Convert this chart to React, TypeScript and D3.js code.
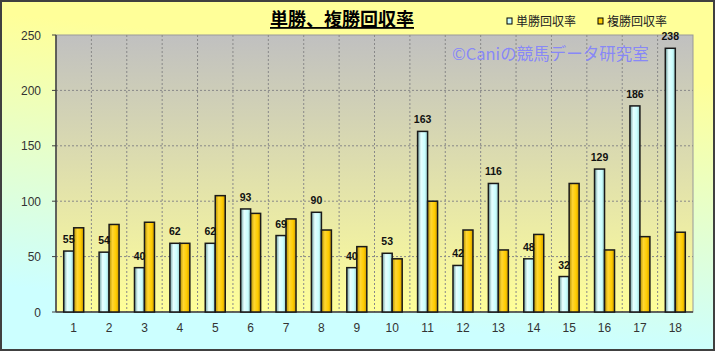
import * as d3 from "d3";
import { useEffect } from "react";

const races = ["1", "2", "3", "4", "5", "6", "7", "8", "9", "10", "11", "12", "13", "14", "15", "16", "17", "18"];
const tanshoRate = [55, 54, 40, 62, 62, 93, 69, 90, 40, 53, 163, 42, 116, 48, 32, 129, 186, 238];
const fukushoRate = [76, 79, 81, 62, 105, 89, 84, 74, 59, 48, 100, 74, 56, 70, 116, 56, 68, 72];
const seriesNames = ["単勝回収率", "複勝回収率"];
const yTicks = [0, 50, 100, 150, 200, 250];

const W = 715;
const H = 351;
const plot = { left: 56, right: 693, top: 35, bottom: 312 };

const App = () => {
  useEffect(() => {
    document.body.style.margin = "0";
  }, []);

  const x = d3
    .scaleBand<string>()
    .domain(races)
    .range([plot.left, plot.right])
    .paddingInner(0.435)
    .paddingOuter(0.2175);
  const x1 = d3.scaleBand<string>().domain(seriesNames).range([0, x.bandwidth()]);
  const y = d3.scaleLinear().domain([0, 250]).range([plot.bottom, plot.top]);

  const step = (plot.right - plot.left) / races.length;
  const fills = ["url(#gCyan)", "url(#gGold)"];
  const values = [tanshoRate, fukushoRate];
  const font = "'Liberation Sans', Arial, sans-serif";
  const cjk = "'Noto Sans CJK JP', sans-serif";

  return (
    <svg width={W} height={H} style={{ display: "block" }}>
      <defs>
        <linearGradient id="gBg" x1="0.6" y1="0" x2="0.4" y2="1">
          <stop offset="0" stopColor="#FFFF99" />
          <stop offset="0.15" stopColor="#FFFF99" />
          <stop offset="0.9" stopColor="#CCFFFF" />
          <stop offset="1" stopColor="#CCFFFF" />
        </linearGradient>
        <linearGradient id="gPlot" x1="0" y1="0" x2="0" y2="1">
          <stop offset="0" stopColor="#C0C0C0" />
          <stop offset="1" stopColor="#FFFF99" />
        </linearGradient>
        <linearGradient id="gCyan" x1="0" y1="0" x2="1" y2="0">
          <stop offset="0" stopColor="#6E9E9E" />
          <stop offset="0.35" stopColor="#E6FFFF" />
          <stop offset="0.7" stopColor="#CCFFFF" />
          <stop offset="1" stopColor="#99CCCC" />
        </linearGradient>
        <linearGradient id="gGold" x1="0" y1="0" x2="1" y2="0">
          <stop offset="0" stopColor="#B38F00" />
          <stop offset="0.35" stopColor="#FFD633" />
          <stop offset="0.7" stopColor="#FFCC00" />
          <stop offset="1" stopColor="#CC9900" />
        </linearGradient>
      </defs>

      <rect x={1} y={1} width={W - 2} height={H - 2} fill="url(#gBg)" stroke="#404040" strokeWidth={2} />

      <rect
        x={plot.left}
        y={plot.top}
        width={plot.right - plot.left}
        height={plot.bottom - plot.top}
        fill="url(#gPlot)"
        stroke="#999"
        strokeWidth={1}
      />

      {/* grid */}
      {yTicks.slice(1, -1).map((t) => (
        <line key={"h" + t} x1={plot.left} x2={plot.right} y1={y(t)} y2={y(t)} stroke="#888" strokeDasharray="2,2" />
      ))}
      {races.slice(1).map((_, i) => {
        const gx = plot.left + step * (i + 1);
        return <line key={"v" + i} x1={gx} x2={gx} y1={plot.top} y2={plot.bottom} stroke="#888" strokeDasharray="2,2" />;
      })}

      {/* axes */}
      <line x1={plot.left} x2={plot.left} y1={plot.top} y2={plot.bottom} stroke="#404040" strokeWidth={1.5} />
      <line x1={plot.left} x2={plot.right} y1={plot.bottom} y2={plot.bottom} stroke="#404040" strokeWidth={1.5} />
      {yTicks.map((t) => (
        <g key={"yt" + t}>
          <line x1={plot.left - 4} x2={plot.left} y1={y(t)} y2={y(t)} stroke="#404040" />
          <text x={41} y={y(t) + 4.5} textAnchor="end" fontFamily={font} fontSize={12} fill="#333">
            {t}
          </text>
        </g>
      ))}
      {races.map((r) => (
        <text key={"xt" + r} x={x(r)! + x.bandwidth() / 2} y={332} textAnchor="middle" fontFamily={font} fontSize={12} fill="#333">
          {r}
        </text>
      ))}

      {/* bars */}
      {races.map((r, i) => (
        <g key={"b" + r}>
          {seriesNames.map((s, k) => (
            <rect
              key={s}
              x={x(r)! + x1(s)!}
              y={y(values[k][i])}
              width={x1.bandwidth()}
              height={plot.bottom - y(values[k][i])}
              fill={fills[k]}
              stroke="#1a1a1a"
              strokeWidth={1.5}
            />
          ))}
          <text
            x={x(r)! + x1(seriesNames[0])! + x1.bandwidth() / 2}
            y={y(tanshoRate[i]) - 8}
            textAnchor="middle"
            fontFamily={font}
            fontWeight="bold"
            fontSize={10.5}
            fill="#111"
          >
            {tanshoRate[i]}
          </text>
        </g>
      ))}

      {/* watermark */}
      <text x={452} y={60} fontFamily={cjk} fontSize={16.5} fill="#8080FF" fillOpacity={0.9}>
        ©Caniの競馬データ研究室
      </text>

      {/* title */}
      <text x={342} y={26} textAnchor="middle" fontFamily={cjk} fontWeight="bold" fontSize={18} fill="#000" textDecoration="underline">
        単勝、複勝回収率
      </text>

      {/* legend */}
      {seriesNames.map((s, k) => {
        const lx = [507, 598][k];
        return (
          <g key={"lg" + s}>
            <rect x={lx} y={18} width={5} height={6} fill={k === 0 ? "#CCFFFF" : "#FFCC00"} stroke="#000" strokeWidth={1} />
            <text x={lx + 9} y={26} fontFamily={cjk} fontSize={12} fill="#222">
              {s}
            </text>
          </g>
        );
      })}
    </svg>
  );
};

export default App;
